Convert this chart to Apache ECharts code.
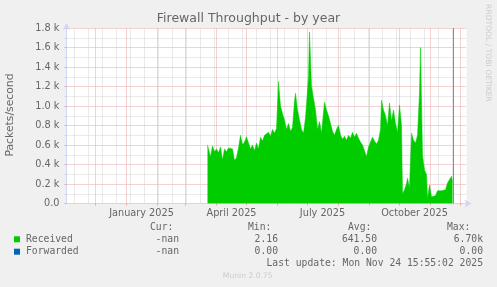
<!DOCTYPE html>
<html><head><meta charset="utf-8">
<script src="https://cdn.jsdelivr.net/npm/echarts@6/dist/echarts.min.js"></script>
<style>html,body{margin:0;padding:0;background:#F0F0F0;}#c{width:497px;height:287px;}</style>
</head><body><div id="c"></div>
<script>
// ---- data ----
const receivedDates = ['2025-03-23','2025-03-24','2025-03-26','2025-03-28','2025-03-30','2025-04-01','2025-04-03','2025-04-05','2025-04-07','2025-04-09','2025-04-11','2025-04-13','2025-04-15','2025-04-17','2025-04-19','2025-04-21','2025-04-23','2025-04-25','2025-04-27','2025-04-29','2025-05-01','2025-05-03','2025-05-05','2025-05-07','2025-05-09','2025-05-11','2025-05-13','2025-05-15','2025-05-17','2025-05-19','2025-05-21','2025-05-23','2025-05-25','2025-05-27','2025-05-29','2025-05-31','2025-06-02','2025-06-04','2025-06-06','2025-06-08','2025-06-10','2025-06-12','2025-06-14','2025-06-16','2025-06-18','2025-06-19','2025-06-21','2025-06-23','2025-06-25','2025-06-27','2025-06-29','2025-07-01','2025-07-02','2025-07-03','2025-07-05','2025-07-07','2025-07-09','2025-07-11','2025-07-13','2025-07-15','2025-07-17','2025-07-18','2025-07-20','2025-07-22','2025-07-24','2025-07-26','2025-07-28','2025-07-30','2025-08-01','2025-08-03','2025-08-05','2025-08-07','2025-08-09','2025-08-11','2025-08-13','2025-08-15','2025-08-17','2025-08-19','2025-08-21','2025-08-23','2025-08-25','2025-08-27','2025-08-29','2025-08-31','2025-09-02','2025-09-04','2025-09-06','2025-09-08','2025-09-10','2025-09-12','2025-09-13','2025-09-15','2025-09-17','2025-09-19','2025-09-21','2025-09-23','2025-09-25','2025-09-27','2025-09-29','2025-10-01','2025-10-03','2025-10-04','2025-10-06','2025-10-08','2025-10-09','2025-10-11','2025-10-13','2025-10-15','2025-10-17','2025-10-19','2025-10-21','2025-10-22','2025-10-24','2025-10-26','2025-10-28','2025-10-29','2025-10-31','2025-11-02','2025-11-04','2025-11-06','2025-11-08','2025-11-10','2025-11-12','2025-11-14','2025-11-16','2025-11-18','2025-11-20','2025-11-22','2025-11-23'];
const receivedValues = [600,560,480,590,530,560,520,580,445,560,530,570,590,560,440,470,570,700,600,630,685,620,560,600,540,620,560,680,640,700,680,730,690,760,720,770,1250,1000,920,860,760,820,740,780,1050,1130,960,860,760,720,880,860,1300,1760,1200,1180,960,760,840,720,700,1040,960,900,820,740,700,760,800,700,660,690,650,700,670,730,680,720,670,630,600,620,480,580,600,680,640,610,650,760,1060,960,900,800,1030,850,960,820,730,1010,800,100,140,200,260,160,720,650,620,700,1140,1600,500,340,300,50,190,70,70,80,130,150,130,150,140,210,200,280,220];

const monthStarts = ['2024-12-01','2025-01-01','2025-02-01','2025-03-01','2025-04-01','2025-05-01','2025-06-01','2025-07-01','2025-08-01','2025-09-01','2025-10-01','2025-11-01','2025-12-01'];
const minorGridDates = ['2024-11-10','2024-11-24','2024-12-08','2024-12-22','2025-01-05','2025-01-19','2025-02-02','2025-02-16','2025-03-02','2025-03-16','2025-03-30','2025-04-13','2025-04-27','2025-05-11','2025-05-25','2025-06-08','2025-06-22','2025-07-06','2025-07-20','2025-08-03','2025-08-17','2025-08-31','2025-09-14','2025-09-28','2025-10-12','2025-10-26','2025-11-09','2025-11-23'];
const xLabelDates = ['2025-01-16','2025-04-16','2025-07-16','2025-10-16'];
const xLabelTexts = ['January 2025','April 2025','July 2025','October 2025'];
const lastUpdateTime = '2025-11-24T00:00:00';

const legendNames = ['Received','Forwarded'];
const legendColors = ['#00CC00','#0066B3'];
const legendCur = ['-nan','-nan'];
const legendMin = ['2.16','0.00'];
const legendAvg = ['641.50','0.00'];
const legendMax = ['6.70k','0.00'];

// ---- chart ----
const ts = s => new Date(s.length === 10 ? s + 'T00:00:00' : s).getTime();
const labelMap = {};
xLabelDates.forEach((d, i) => { labelMap[ts(d)] = xLabelTexts[i]; });

const AXIS = '#CFD6F8', MGRID = '#EBA5A5', GRID = '#D4D4D4', FONT = '#666666';
const sans = 'DejaVu Sans', mono = 'DejaVu Sans Mono';

const chart = echarts.init(document.getElementById('c'), null, {renderer: 'canvas'});

const g = [];
function txt(x, y, text, opt) {
  g.push(Object.assign({type: 'text', x: x, y: y, silent: true,
    style: Object.assign({text: text, fill: FONT, font: '9.72px ' + mono, textAlign: 'left', textVerticalAlign: 'middle'}, opt || {})}));
}
txt(248.5, 19, 'Firewall Throughput - by year', {font: '12.5px ' + sans, textAlign: 'center'});
g.push({type: 'text', x: 10, y: 115, rotation: Math.PI / 2, silent: true,
  style: {text: 'Packets/second', fill: FONT, font: '10.8px ' + sans, textAlign: 'center', textVerticalAlign: 'middle'}});
g.push({type: 'text', x: 487.7, y: 53, rotation: -Math.PI / 2, silent: true,
  style: {text: 'RRDTOOL / TOBI OETIKER', fill: '#CCCCCC', font: '7.6px ' + sans, textAlign: 'center', textVerticalAlign: 'middle'}});
txt(150, 227, 'Cur:'); txt(248, 227, 'Min:'); txt(348, 227, 'Avg:'); txt(447, 227, 'Max:');
const rowY = [239.3, 251.7];
legendNames.forEach((n, i) => {
  g.push({type: 'rect', shape: {x: 14, y: rowY[i] - 3, width: 6, height: 6}, style: {fill: legendColors[i]}, silent: true});
  txt(26, rowY[i], n);
  txt(179, rowY[i], legendCur[i], {textAlign: 'right'});
  txt(278, rowY[i], legendMin[i], {textAlign: 'right'});
  txt(377, rowY[i], legendAvg[i], {textAlign: 'right'});
  txt(483, rowY[i], legendMax[i], {textAlign: 'right'});
});
txt(483, 263.3, 'Last update: Mon Nov 24 15:55:02 2025', {textAlign: 'right'});
txt(247.7, 276, 'Munin 2.0.75', {font: '7.6px ' + sans, fill: '#CCCCCC', textAlign: 'center'});

const vLine = (d, color) => ({xAxis: d, lineStyle: {color: color, type: [1, 1], width: 1}});

chart.setOption({
  backgroundColor: '#F0F0F0',
  animation: false,
  grid: {left: 66.5, right: 30.5, top: 28, bottom: 83.5, show: true, backgroundColor: '#FFFFFF', borderWidth: 0},
  xAxis: {
    type: 'value',
    min: ts('2024-11-02'), max: ts('2025-12-07'),
    axisLine: {lineStyle: {color: AXIS}, symbol: ['none', 'arrow'], symbolSize: [6, 7], symbolOffset: [0, 5]},
    axisTick: {show: true, customValues: monthStarts.map(ts), length: 2, lineStyle: {color: MGRID}},
    axisLabel: {customValues: xLabelDates.map(ts), color: FONT, fontFamily: sans, fontSize: 9.72, margin: 5,
      formatter: v => labelMap[v] || ''},
    splitLine: {show: false}
  },
  yAxis: {
    type: 'value', min: 0, max: 1800, interval: 200,
    axisLine: {show: true, lineStyle: {color: AXIS}, symbol: ['none', 'arrow'], symbolSize: [6, 7], symbolOffset: [0, 5]},
    axisTick: {show: true, length: 2, lineStyle: {color: MGRID}},
    minorTick: {show: true, splitNumber: 2, length: 2, lineStyle: {color: GRID}},
    axisLabel: {color: FONT, fontFamily: sans, fontSize: 9.72, margin: 7,
      formatter: v => v === 0 ? '0.0' : (v / 1000).toFixed(1) + ' k'},
    splitLine: {show: true, lineStyle: {color: MGRID, type: [1, 1]}},
    minorSplitLine: {show: true, lineStyle: {color: GRID, type: [1, 1]}}
  },
  graphic: g,
  series: [
    {
      type: 'line', data: [], z: 1, silent: true,
      markLine: {
        z: 1, silent: true, symbol: ['none', 'none'], label: {show: false}, animation: false,
        data: minorGridDates.map(d => vLine(ts(d), GRID)).concat(monthStarts.map(d => vLine(ts(d), MGRID)))
      }
    },
    {
      name: 'Received', type: 'line', z: 3, symbol: 'none', silent: true,
      data: receivedDates.map((d, i) => [ts(d), receivedValues[i]]),
      lineStyle: {width: 0.5, color: '#00CC00'},
      areaStyle: {color: '#00CC00', opacity: 1},
      markLine: {
        z: 4, silent: true, symbol: ['none', 'none'], label: {show: false}, animation: false,
        data: [{xAxis: ts(lastUpdateTime), lineStyle: {color: '#8C8C8C', type: 'solid', width: 1}}]
      }
    }
  ]
});
</script>
</body></html>
